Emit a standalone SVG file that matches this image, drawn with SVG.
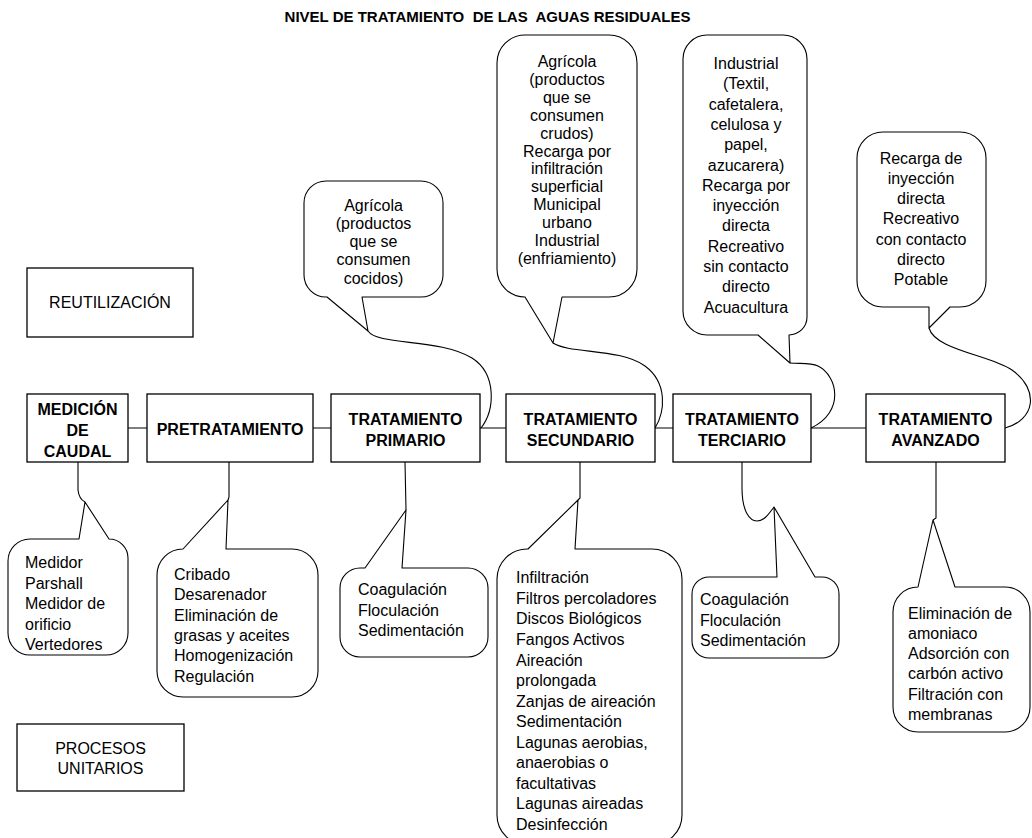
<svg xmlns="http://www.w3.org/2000/svg" width="1032" height="838" viewBox="0 0 1032 838">
<style>
.bg{fill:#fff}
.box{fill:#fff;stroke:#000;stroke-width:1.3}
.co{fill:#fff;stroke:#000;stroke-width:1.1;stroke-linejoin:round}
.ln{fill:none;stroke:#000;stroke-width:1.1}
text{font-family:"Liberation Sans",Arial,sans-serif;fill:#000}
.t{font-size:16px}
.s{font-size:16px}
.b{font-size:16px;font-weight:bold}
.ttl{font-size:15px;font-weight:bold}
.m{text-anchor:middle}
</style>
<rect class="bg" x="0" y="0" width="1032" height="838"/>
<g id="title"><text class="ttl m" x="487.5" y="22" xml:space="preserve">NIVEL DE TRATAMIENTO  DE LAS  AGUAS RESIDUALES</text></g>
<g id="reutilizacion"><rect class="box" x="27" y="268" width="166" height="69"/><text class="t m" x="110" y="308">REUTILIZACIÓN</text></g>
<g id="procesos-unitarios"><rect class="box" x="17" y="724" width="167" height="67"/><text class="t m" x="100.5" y="754">PROCESOS<tspan x="100.5" dy="20">UNITARIOS</tspan></text></g>

<g id="connectors">
<path class="ln" d="M128,428H147M313,428H331M480,428H506M655,428H673M811,428H866"/>
<path class="ln" d="M368,331C378,346 440,338 472,358C497,374 495,410 481,428"/>
<path class="ln" d="M553,343C570,354 620,348 645,366C668,383 665,412 655,428"/>
<path class="ln" d="M790,363C800,364 810,362 818,366C838,376 845,412 811,428"/>
<path class="ln" d="M929,328C935,350 990,355 1012,370C1040,390 1035,420 1005,428"/>
<path class="ln" d="M78,462V490Q79,499 85,502"/>
<path class="ln" d="M229,462V497L228,500"/>
<path class="ln" d="M405,462L406,510"/>
<path class="ln" d="M580,462V498L578,500"/>
<path class="ln" d="M742,462V488C742,512 750,521 757,521C765,521 770,512 774,507"/>
<path class="ln" d="M936,462V518L933,520"/>
</g>

<g id="box-medicion"><rect class="box" x="27" y="394" width="101" height="68"/><text class="b m" x="77.5" y="415">MEDICIÓN<tspan x="77.5" dy="21">DE</tspan><tspan x="77.5" dy="21">CAUDAL</tspan></text></g>
<g id="box-pretratamiento"><rect class="box" x="147" y="394" width="166" height="68"/><text class="b m" x="230" y="434.5">PRETRATAMIENTO</text></g>
<g id="box-primario"><rect class="box" x="331" y="394" width="149" height="68"/><text class="b m" x="405.5" y="424.5">TRATAMIENTO<tspan x="405.5" dy="21">PRIMARIO</tspan></text></g>
<g id="box-secundario"><rect class="box" x="506" y="394" width="149" height="68"/><text class="b m" x="580.5" y="424.5">TRATAMIENTO<tspan x="580.5" dy="21">SECUNDARIO</tspan></text></g>
<g id="box-terciario"><rect class="box" x="673" y="394" width="138" height="68"/><text class="b m" x="742" y="424.5">TRATAMIENTO<tspan x="742" dy="21">TERCIARIO</tspan></text></g>
<g id="box-avanzado"><rect class="box" x="866" y="394" width="139" height="68"/><text class="b m" x="935.5" y="424.5">TRATAMIENTO<tspan x="935.5" dy="21">AVANZADO</tspan></text></g>

<g id="reuso-primario">
<path class="co" d="M326,181H421A22,22 0 0 1 443,203V275A22,22 0 0 1 421,297H362L368,331L327,297H326A22,22 0 0 1 304,275V203A22,22 0 0 1 326,181Z"/>
<text class="s m" x="373.5" y="210.5">Agrícola<tspan x="373.5" dy="18.3">(productos</tspan><tspan x="373.5" dy="18.3">que se</tspan><tspan x="373.5" dy="18.3">consumen</tspan><tspan x="373.5" dy="18.3">cocidos)</tspan></text>
</g>
<g id="reuso-secundario">
<path class="co" d="M525,35H609A28,28 0 0 1 637,63V269A28,28 0 0 1 609,297H562L553,343L525,297A28,28 0 0 1 497,269V63A28,28 0 0 1 525,35Z"/>
<text class="s m" x="567" y="67">Agrícola<tspan x="567" dy="17.9">(productos</tspan><tspan x="567" dy="17.9">que se</tspan><tspan x="567" dy="17.9">consumen</tspan><tspan x="567" dy="17.9">crudos)</tspan><tspan x="567" dy="17.9">Recarga por</tspan><tspan x="567" dy="17.9">infiltración</tspan><tspan x="567" dy="17.9">superficial</tspan><tspan x="567" dy="17.9">Municipal</tspan><tspan x="567" dy="17.9">urbano</tspan><tspan x="567" dy="17.9">Industrial</tspan><tspan x="567" dy="17.9">(enfriamiento)</tspan></text>
</g>
<g id="reuso-terciario">
<path class="co" d="M707,35H783A24,24 0 0 1 807,59V317A18,18 0 0 1 789,335L790,363L758,335H707A24,24 0 0 1 683,311V59A24,24 0 0 1 707,35Z"/>
<text class="t m" x="746" y="69">Industrial<tspan x="746" dy="20.3">(Textil,</tspan><tspan x="746" dy="20.3">cafetalera,</tspan><tspan x="746" dy="20.3">celulosa y</tspan><tspan x="746" dy="20.3">papel,</tspan><tspan x="746" dy="20.3">azucarera)</tspan><tspan x="746" dy="20.3">Recarga por</tspan><tspan x="746" dy="20.3">inyección</tspan><tspan x="746" dy="20.3">directa</tspan><tspan x="746" dy="20.3">Recreativo</tspan><tspan x="746" dy="20.3">sin contacto</tspan><tspan x="746" dy="20.3">directo</tspan><tspan x="746" dy="20.3">Acuacultura</tspan></text>
</g>
<g id="reuso-avanzado">
<path class="co" d="M883,132H960A26,26 0 0 1 986,158V281A26,26 0 0 1 960,307H950L929,328L929,307H883A26,26 0 0 1 857,281V158A26,26 0 0 1 883,132Z"/>
<text class="t m" x="921" y="163.5">Recarga de<tspan x="921" dy="20.3">inyección</tspan><tspan x="921" dy="20.3">directa</tspan><tspan x="921" dy="20.3">Recreativo</tspan><tspan x="921" dy="20.3">con contacto</tspan><tspan x="921" dy="20.3">directo</tspan><tspan x="921" dy="20.3">Potable</tspan></text>
</g>

<g id="proc-medicion">
<path class="co" d="M30,539H79L85,502L109,539A19,19 0 0 1 128,558V633A22,22 0 0 1 106,655H30A22,22 0 0 1 8,633V561A22,22 0 0 1 30,539Z"/>
<text class="t" x="25" y="568">Medidor<tspan x="25" dy="20.5">Parshall</tspan><tspan x="25" dy="20.5">Medidor de</tspan><tspan x="25" dy="20.5">orificio</tspan><tspan x="25" dy="20.5">Vertedores</tspan></text>
</g>
<g id="proc-pretratamiento">
<path class="co" d="M183,549L228,500L226,549H292A26,26 0 0 1 318,575V671A26,26 0 0 1 292,697H183A26,26 0 0 1 157,671V575A26,26 0 0 1 183,549Z"/>
<text class="t" x="174" y="580">Cribado<tspan x="174" dy="20.3">Desarenador</tspan><tspan x="174" dy="20.3">Eliminación de</tspan><tspan x="174" dy="20.3">grasas y aceites</tspan><tspan x="174" dy="20.3">Homogenización</tspan><tspan x="174" dy="20.3">Regulación</tspan></text>
</g>
<g id="proc-primario">
<path class="co" d="M360,568H365L406,510L402,568H468A20,20 0 0 1 488,588V637A20,20 0 0 1 468,657H360A20,20 0 0 1 340,637V588A20,20 0 0 1 360,568Z"/>
<text class="t" x="358" y="595">Coagulación<tspan x="358" dy="20.5">Floculación</tspan><tspan x="358" dy="20.5">Sedimentación</tspan></text>
</g>
<g id="proc-secundario">
<path class="co" d="M528,549L578,500L575,549H652A30,30 0 0 1 682,579V815A30,30 0 0 1 652,845H527A30,30 0 0 1 497,815V579A30,30 0 0 1 527,549Z"/>
<text class="t" x="516" y="583.3">Infiltración<tspan x="516" dy="20.56">Filtros percoladores</tspan><tspan x="516" dy="20.56">Discos Biológicos</tspan><tspan x="516" dy="20.56">Fangos Activos</tspan><tspan x="516" dy="20.56">Aireación</tspan><tspan x="516" dy="20.56">prolongada</tspan><tspan x="516" dy="20.56">Zanjas de aireación</tspan><tspan x="516" dy="20.56">Sedimentación</tspan><tspan x="516" dy="20.56">Lagunas aerobias,</tspan><tspan x="516" dy="20.56">anaerobias o</tspan><tspan x="516" dy="20.56">facultativas</tspan><tspan x="516" dy="20.56">Lagunas aireadas</tspan><tspan x="516" dy="20.56">Desinfección</tspan></text>
</g>
<g id="proc-terciario">
<path class="co" d="M709,577H777L774,507L815,577H822A17,17 0 0 1 839,594V641A17,17 0 0 1 822,658H709A17,17 0 0 1 692,641V594A17,17 0 0 1 709,577Z"/>
<text class="t" x="700" y="605">Coagulación<tspan x="700" dy="20.5">Floculación</tspan><tspan x="700" dy="20.5">Sedimentación</tspan></text>
</g>
<g id="proc-avanzado">
<path class="co" d="M918,587L933,520L955,587H1005A25,25 0 0 1 1030,612V707A25,25 0 0 1 1005,732H918A25,25 0 0 1 893,707V612A25,25 0 0 1 918,587Z"/>
<text class="t" x="908" y="618.5">Eliminación de<tspan x="908" dy="20.3">amoniaco</tspan><tspan x="908" dy="20.3">Adsorción con</tspan><tspan x="908" dy="20.3">carbón activo</tspan><tspan x="908" dy="20.3">Filtración con</tspan><tspan x="908" dy="20.3">membranas</tspan></text>
</g>
</svg>
